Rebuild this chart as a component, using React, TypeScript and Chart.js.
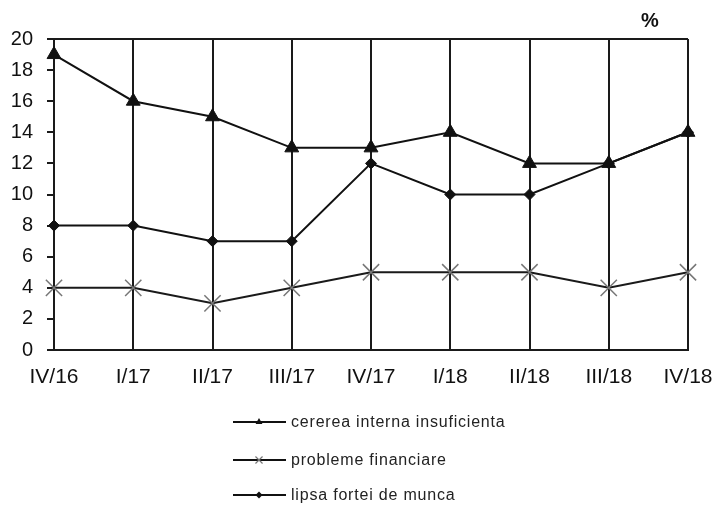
import React, { useEffect, useRef } from "react";
import { Chart, registerables } from "chart.js";

Chart.register(...registerables);

const categories = ["IV/16", "I/17", "II/17", "III/17", "IV/17", "I/18", "II/18", "III/18", "IV/18"];
const cerereaInterna = [19, 16, 15, 13, 13, 14, 12, 12, 14];
const problemeFinanciare = [4, 4, 3, 4, 5, 5, 5, 4, 5];
const lipsaFortei = [8, 8, 7, 7, 12, 10, 10, 12, 14];
const seriesNames = ["cererea interna insuficienta", "probleme financiare", "lipsa fortei de munca"];
const yMin = 0;
const yMax = 20;
const yStep = 2;
const unitLabel = "%";

const FONT = "'Liberation Sans', Arial, sans-serif";

export default function App() {
  const ref = useRef<HTMLCanvasElement | null>(null);

  useEffect(() => {
    document.body.style.margin = "0";
    const canvas = ref.current!;

    function drawMarker(ctx: CanvasRenderingContext2D, style: string, r: number, x: number, y: number, color: string) {
      ctx.save();
      ctx.fillStyle = color;
      ctx.strokeStyle = color;
      ctx.beginPath();
      if (style === "triangle") {
        ctx.moveTo(x, y - r);
        ctx.lineTo(x + r * 0.866, y + r * 0.5);
        ctx.lineTo(x - r * 0.866, y + r * 0.5);
        ctx.closePath();
        ctx.fill();
      } else if (style === "rectRot") {
        ctx.moveTo(x - r, y);
        ctx.lineTo(x, y - r);
        ctx.lineTo(x + r, y);
        ctx.lineTo(x, y + r);
        ctx.closePath();
        ctx.fill();
      } else {
        const d = r * 0.707;
        ctx.lineWidth = 1.2;
        ctx.moveTo(x - d, y - d);
        ctx.lineTo(x + d, y + d);
        ctx.moveTo(x + d, y - d);
        ctx.lineTo(x - d, y + d);
        ctx.stroke();
      }
      ctx.restore();
    }

    const extras = {
      id: "extras",
      afterDraw(chart: any) {
        const ctx = chart.ctx;
        ctx.save();
        ctx.fillStyle = "#111";
        ctx.font = `bold 20px ${FONT}`;
        ctx.textAlign = "center";
        ctx.textBaseline = "middle";
        ctx.fillText(unitLabel, 650, 21);
        const ys = [422, 460, 495];
        const styles = ["triangle", "crossRot", "rectRot"];
        const colors = ["#111", "#777", "#111"];
        const radii = [4, 5, 3.5];
        seriesNames.forEach((name, i) => {
          const y = ys[i];
          ctx.strokeStyle = "#111";
          ctx.lineWidth = 2;
          ctx.beginPath();
          ctx.moveTo(233, y);
          ctx.lineTo(286, y);
          ctx.stroke();
          drawMarker(ctx, styles[i], radii[i], 259, y, colors[i]);
          ctx.fillStyle = "#222";
          ctx.font = `16px ${FONT}`;
          (ctx as any).letterSpacing = "0.8px";
          ctx.textAlign = "left";
          ctx.textBaseline = "middle";
          ctx.fillText(name, 291, y + 1);
          (ctx as any).letterSpacing = "0px";
        });
        ctx.restore();
      },
    };

    const chart = new Chart(canvas, {
      type: "line",
      data: {
        labels: categories,
        datasets: [
          {
            label: seriesNames[0],
            data: cerereaInterna,
            borderColor: "#111",
            backgroundColor: "#111",
            borderWidth: 2,
            pointStyle: "triangle",
            pointRadius: 8,
            pointBorderWidth: 1,
            tension: 0,
          },
          {
            label: seriesNames[1],
            data: problemeFinanciare,
            borderColor: "#1a1a1a",
            backgroundColor: "#777",
            pointBorderColor: "#777",
            borderWidth: 2,
            pointStyle: "crossRot",
            pointRadius: 11.5,
            pointBorderWidth: 1.5,
            tension: 0,
          },
          {
            label: seriesNames[2],
            data: lipsaFortei,
            borderColor: "#111",
            backgroundColor: "#111",
            borderWidth: 2,
            pointStyle: "rectRot",
            pointRadius: 5.5,
            pointBorderWidth: 1,
            tension: 0,
          },
        ],
      },
      options: {
        animation: false,
        responsive: false,
        maintainAspectRatio: false,
        layout: { padding: { left: 0, top: 39, right: 28, bottom: 115 } },
        plugins: { legend: { display: false }, tooltip: { enabled: false } },
        scales: {
          x: {
            offset: false,
            grid: { color: "#1a1a1a", lineWidth: 2, drawTicks: false, tickLength: 0 },
            border: { display: true, color: "#1a1a1a", width: 2 },
            ticks: { color: "#111", font: { family: FONT, size: 21 }, padding: 15, maxRotation: 0, autoSkip: false },
            afterFit: (s: any) => { s.height = 40; s.paddingLeft = 0; s.paddingRight = 0; },
          },
          y: {
            min: yMin,
            max: yMax,
            grid: {
              color: (c: any) => (c.tick && c.tick.value === yMax ? "#1a1a1a" : "rgba(0,0,0,0)"),
              lineWidth: 2,
              tickColor: "#1a1a1a",
              tickLength: 7,
              drawTicks: true,
            },
            border: { display: true, color: "#1a1a1a", width: 2 },
            ticks: { stepSize: yStep, color: "#111", font: { family: FONT, size: 20 }, padding: 14 },
            afterFit: (s: any) => { s.width = 54; s.paddingTop = 0; s.paddingBottom = 0; },
          },
        },
      },
      plugins: [extras],
    });
    return () => chart.destroy();
  }, []);

  return (
    <div style={{ position: "absolute", left: 0, top: 0, width: 716, height: 505, background: "#fff" }}>
      <canvas ref={ref} width={716} height={505} style={{ width: 716, height: 505, display: "block" }} />
    </div>
  );
}
